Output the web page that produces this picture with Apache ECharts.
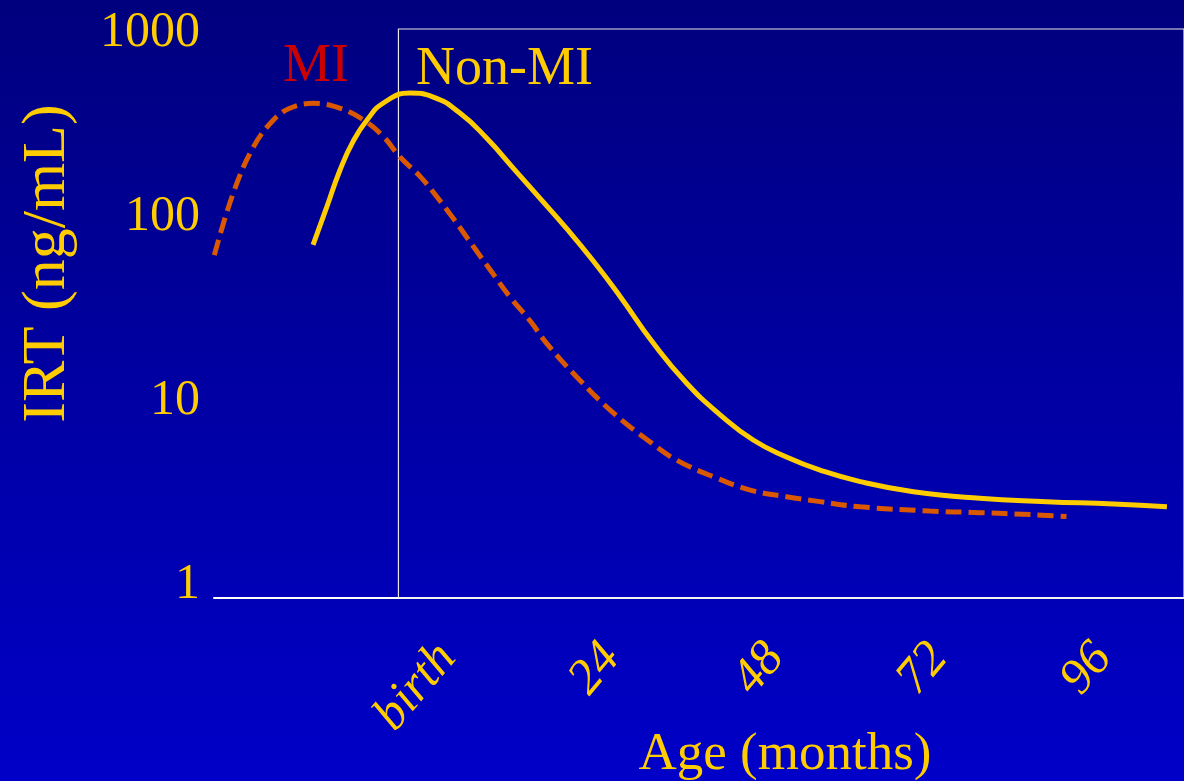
<!DOCTYPE html>
<html>
<head>
<meta charset="utf-8">
<script src="https://cdn.jsdelivr.net/npm/echarts@6/dist/echarts.min.js"></script>
<style>
  html, body { margin: 0; padding: 0; }
  #chart { width: 1184px; height: 781px; }
</style>
</head>
<body>
<div id="chart"></div>
<script>
// age in months (0 = birth), IRT in ng/mL
const ageMI = [-26.95, -24.2, -21.2, -18.3, -15.9, -12.5, -8.6, -5.1, -2.2, 0.2, 3.2, 5.6, 8.0, 11.0, 13.4, 16.3, 19.3, 21.7, 26.1, 31.5, 36.8, 40.7, 46.1, 51.5, 56.8, 61.7, 67.6, 77.8, 85.1, 92.5, 97.8];
const irtMI = [73, 158, 284, 396, 459, 488, 460, 396, 322, 250, 195, 152, 116, 81, 61, 43.4, 32.0, 24.2, 15.9, 10.1, 7.07, 5.62, 4.56, 3.86, 3.55, 3.34, 3.13, 2.97, 2.91, 2.84, 2.77];

const ageNonMI = [-12.5, -10.5, -8.55, -6.6, -4.6, -2.2, 1.7, 5.1, 9.0, 12.9, 16.8, 20.7, 24.6, 28.5, 32.4, 37.3, 42.2, 47.1, 52.0, 56.8, 61.7, 67.6, 75.4, 85.1, 94.9, 104.7, 112.5];
const irtNonMI = [83, 133, 212, 305, 396, 490, 555, 528, 432, 316, 217, 149, 102, 68, 43.8, 24.3, 14.7, 9.9, 7.2, 5.84, 4.96, 4.29, 3.78, 3.48, 3.34, 3.24, 3.13];

const tickMonths = [0, 24, 48, 72, 96];
const tickLabels = ['birth', '24', '48', '72', '96'];

const xMin = -27, xMax = 115;
const yMin = 1, yMax = 1237;

const yellow = '#FFCC00';
const serif = '"Liberation Serif", "Times New Roman", serif';

function pairs(xs, ys) {
    return xs.map((x, i) => [x, ys[i]]);
}

let myChart = echarts.init(document.getElementById('chart'));

let option = {
    animation: false,
    backgroundColor: {
        type: 'linear', x: 0, y: 0, x2: 0, y2: 1,
        colorStops: [
            { offset: 0, color: '#00007E' },
            { offset: 1, color: '#0000C8' }
        ]
    },
    grid: {
        left: 214, right: 0, top: 29, bottom: 183,
        containLabel: false,
        outerBoundsMode: 'none'
    },
    xAxis: {
        type: 'value',
        min: xMin,
        max: xMax,
        name: 'Age (months)',
        nameLocation: 'middle',
        nameGap: 131,
        nameMoveOverlap: false,
        nameTextStyle: {
            color: yellow, fontFamily: serif, fontSize: 53,
            padding: [0, 0, 0, 172]
        },
        axisLine: { show: true, lineStyle: { color: '#FFFFFF', width: 2 } },
        axisTick: { show: false },
        splitLine: { show: false },
        axisLabel: {
            customValues: tickMonths,
            formatter: function (v) {
                return tickLabels[tickMonths.indexOf(v)];
            },
            rotate: 50,
            margin: 110,
            padding: [0, -76, 0, 0],
            color: yellow,
            fontFamily: serif,
            fontStyle: 'italic',
            fontSize: 50
        }
    },
    yAxis: {
        type: 'log',
        logBase: 10,
        min: yMin,
        max: yMax,
        name: 'IRT (ng/mL)',
        nameLocation: 'middle',
        nameRotate: 90,
        nameGap: 135,
        nameMoveOverlap: false,
        nameTextStyle: {
            color: yellow, fontFamily: serif, fontSize: 62,
            padding: [0, 0, 0, 100]
        },
        axisLine: { show: false },
        axisTick: { show: false },
        splitLine: { show: false },
        axisLabel: {
            showMaxLabel: false,
            formatter: function (v) {
                return String(Math.round(v));
            },
            margin: 14,
            verticalAlign: 'bottom',
            lineHeight: 26,
            color: yellow,
            fontFamily: serif,
            fontSize: 50
        }
    },
    graphic: [
        {
            type: 'text', left: 283, top: 40,
            style: { text: 'MI', fill: '#CC0000', font: '54px ' + serif }
        },
        {
            type: 'text', left: 416, top: 43,
            style: { text: 'Non-MI', fill: yellow, font: '54px ' + serif }
        }
    ],
    series: [
        {
            name: 'MI',
            type: 'line',
            data: pairs(ageMI, irtMI),
            smooth: 0.4,
            symbol: 'none',
            lineStyle: { color: '#D95800', width: 5, type: [16, 7], cap: 'butt' },
            markArea: {
                silent: true,
                itemStyle: { color: 'rgba(0,0,0,0)', borderColor: '#E8E8E8', borderWidth: 1.2 },
                data: [[{ xAxis: 0, yAxis: yMin }, { xAxis: xMax, yAxis: yMax }]]
            }
        },
        {
            name: 'Non-MI',
            type: 'line',
            data: pairs(ageNonMI, irtNonMI),
            smooth: 0.5,
            symbol: 'none',
            lineStyle: { color: yellow, width: 5 }
        }
    ]
};

myChart.setOption(option);

window.addEventListener('resize', function () {
    myChart.resize();
}, false);
</script>
</body>
</html>
